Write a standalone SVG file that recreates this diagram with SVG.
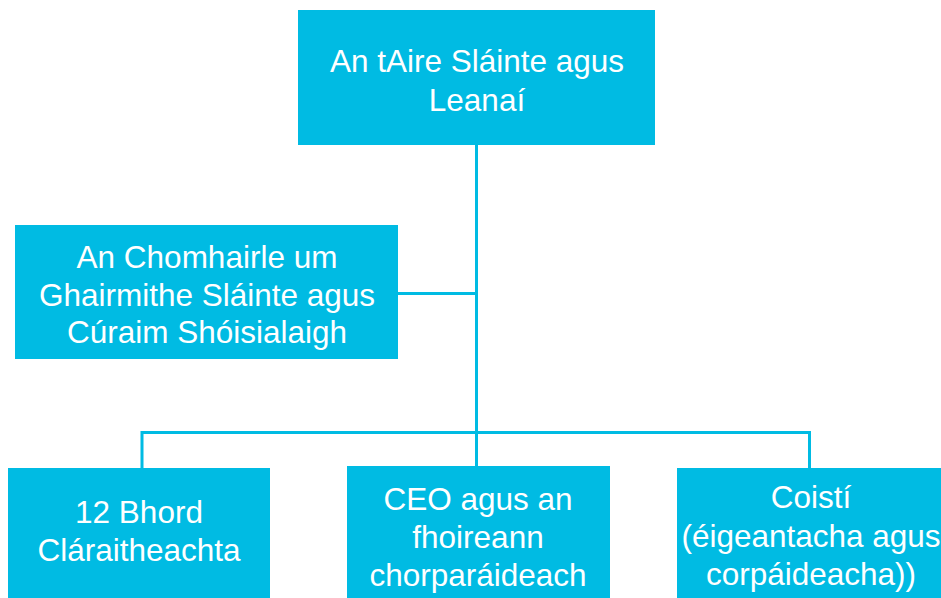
<svg xmlns="http://www.w3.org/2000/svg" width="941" height="598" viewBox="0 0 941 598">
<style>
.box{fill:#00BBE3}
.t{fill:#fff;font-family:"Liberation Sans",Arial,sans-serif;font-size:31.5px;text-anchor:middle}
.c{stroke:#00BBE3;stroke-width:3;fill:none}
</style>
<rect width="941" height="598" fill="#fff"/>
<g id="connectors">
<path class="c" d="M476.5 145V466"/>
<path class="c" d="M398 293.5H476.5"/>
<path class="c" d="M142 468V432.5H809.5V468"/>
</g>
<g id="node-minister">
<rect class="box" x="298" y="10" width="357" height="135"/>
<text class="t" x="477" y="72">An tAire Sláinte agus</text>
<text class="t" x="477" y="111">Leanaí</text>
</g>
<g id="node-council">
<rect class="box" x="15" y="225" width="383" height="134"/>
<text class="t" x="207" y="268">An Chomhairle um</text>
<text class="t" x="207" y="306">Ghairmithe Sláinte agus</text>
<text class="t" x="207" y="343">Cúraim Shóisialaigh</text>
</g>
<g id="node-boards">
<rect class="box" x="8" y="468" width="262" height="130"/>
<text class="t" x="139" y="523">12 Bhord</text>
<text class="t" x="139" y="561">Cláraitheachta</text>
</g>
<g id="node-ceo">
<rect class="box" x="347" y="466" width="263" height="132"/>
<text class="t" x="478" y="510">CEO agus an</text>
<text class="t" x="478" y="548">fhoireann</text>
<text class="t" x="478" y="586">chorparáideach</text>
</g>
<g id="node-committees">
<rect class="box" x="677" y="468" width="264" height="130"/>
<text class="t" x="811" y="508">Coistí</text>
<text class="t" x="811" y="547">(éigeantacha agus</text>
<text class="t" x="811" y="585">corpáideacha))</text>
</g>
</svg>
